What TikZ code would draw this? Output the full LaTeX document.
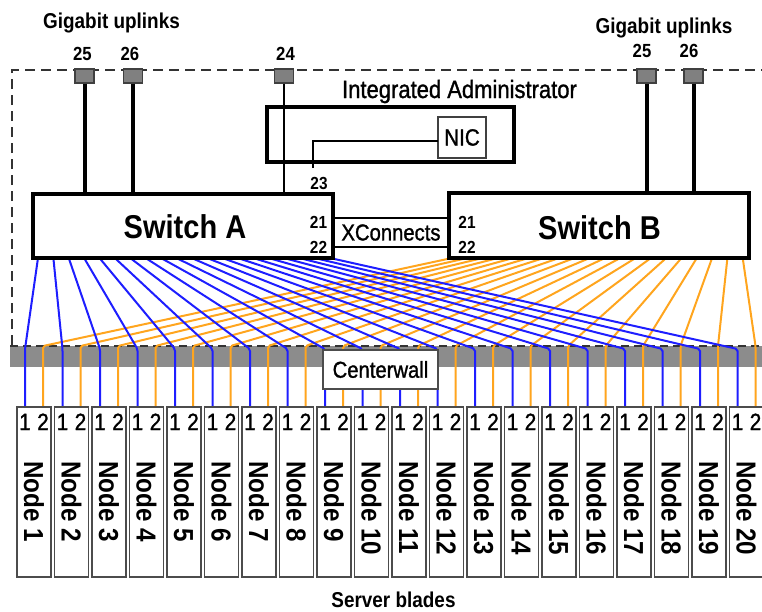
\documentclass[tikz,border=0pt]{standalone}
\usepackage{fontspec}
\setmainfont[FakeStretch=0.88]{Liberation Sans}
\newfontfamily\medfont[FakeStretch=0.88,FakeBold=1.2]{Liberation Sans}
\definecolor{wblue}{RGB}{30,30,255}
\definecolor{worange}{RGB}{255,165,30}
\definecolor{bandgray}{RGB}{140,140,140}
\definecolor{portgray}{RGB}{128,128,128}
\begin{document}
\begin{tikzpicture}[x=1pt,y=-1pt,
  boundary/.style={draw=black!80, line width=2.2pt, dash pattern=on 10pt off 6pt},
  bandline/.style={draw=black!80, line width=1.8pt, dash pattern=on 8pt off 5pt},
  switchbox/.style={draw=black, line width=3.2pt, fill=white, minimum width=300pt, minimum height=64pt, inner sep=0pt},
  adminbox/.style={draw=black, line width=3.2pt, minimum width=247pt, minimum height=55pt, inner sep=0pt},
  nicbox/.style={draw=black!75, line width=1.4pt, fill=white, minimum width=48pt, minimum height=41pt, inner sep=0pt, font=\medfont\fontsize{23.5}{24}\selectfont},
  xbox/.style={draw=black, line width=2pt, minimum width=116pt, minimum height=29pt, inner sep=0pt, font=\medfont\fontsize{23}{24}\selectfont},
  wallbox/.style={draw=black!70, line width=1.5pt, fill=white, minimum width=115pt, minimum height=39pt, inner sep=0pt, font=\medfont\fontsize{23}{24}\selectfont},
  portsq/.style={draw=black!75, line width=1.2pt, fill=portgray, minimum width=19pt, minimum height=14pt, inner sep=0pt},
  uplink/.style={draw=black, line width=4pt},
  mgmtline/.style={draw=black, line width=2pt},
  nicline/.style={draw=black, line width=1.5pt},
  bluewire/.style={draw=wblue, line width=2pt, rounded corners=2pt},
  orangewire/.style={draw=worange, line width=2pt, rounded corners=2pt},
  blade/.style={draw=black!70, line width=1.8pt, fill=white, minimum width=34pt, minimum height=170pt, inner sep=0pt},
  bladetxt/.style={rotate=-90, anchor=west, inner sep=0pt, font=\bfseries\fontsize{27.5}{28}\selectfont},
  portnum/.style={anchor=base, inner sep=0pt, font=\medfont\fontsize{23.5}{24}\selectfont},
  biglbl/.style={anchor=base, inner sep=0pt, font=\bfseries\fontsize{33}{34}\selectfont},
  numlbl/.style={anchor=base, inner sep=0pt, font=\bfseries\fontsize{19}{19}\selectfont},
  smallnum/.style={anchor=base, inner sep=0pt, font=\bfseries\fontsize{17.5}{18}\selectfont},
  titlelbl/.style={anchor=base, inner sep=0pt, font=\bfseries\fontsize{21.5}{22}\selectfont},
  adminlbl/.style={anchor=base, inner sep=0pt, font=\medfont\fontsize{25}{26}\selectfont}
]
\useasboundingbox (0,0) rectangle (762,611);

% centerwall band
\fill[bandgray] (10,346) rectangle (762,367);
\draw[bandline] (10,346) -- (762,346);

% enclosure boundary
\coordinate (bTL) at (12,70);
\coordinate (bTR) at (762,70);
\coordinate (bBL) at (12,345);
\draw[boundary] (bBL) -- (bTL) -- (bTR);

% blade port coordinates and wires
\foreach \i in {1,...,20}{
  \pgfmathsetmacro\pa{25+(\i-1)*37.5}
  \pgfmathsetmacro\pb{43+(\i-1)*37.5}
  \pgfmathsetmacro\sa{38+(\i-1)*15.37}
  \pgfmathsetmacro\sb{452+(\i-1)*15.3}
  \coordinate (sa\i) at (\sa,258);
  \coordinate (sb\i) at (\sb,258);
  \coordinate (pa\i) at (\pa,407);
  \coordinate (pb\i) at (\pb,407);
  \coordinate (ka\i) at (\pa,349);
  \coordinate (kb\i) at (\pb,346);
}
\foreach \i in {1,...,20}{
  \draw[orangewire] (sb\i) -- (kb\i) -- (pb\i);
}
\foreach \i in {1,...,20}{
  \draw[bluewire] (sa\i) -- (ka\i) -- (pa\i);
}

% centerwall label
\node[wallbox] (wall) at (380.5,369.5) {Centerwall};

% XConnects
\node[xbox] (xc) at (391,232.5) {XConnects};

% switches
\node[switchbox] (swA) at (183,226) {};
\node[switchbox, minimum height=65pt] (swB) at (599,225.5) {};
\node[biglbl] (swAt) at (185,238) {Switch A};
\node[biglbl] (swBt) at (599.5,239) {Switch B};
\node[smallnum] (a21) at (318.5,228) {21};
\node[smallnum] (a22) at (318.5,253) {22};
\node[smallnum] (b21) at (467,228) {21};
\node[smallnum] (b22) at (467,253) {22};

% integrated administrator
\node[adminbox] (ia) at (390.5,134.5) {};
\node[adminlbl] (iat) at (459.5,98) {Integrated Administrator};
\node[nicbox] (nic) at (462,137.5) {NIC};
\coordinate (nicport) at (438,141);
\coordinate (p23) at (313,168);
\draw[nicline] (nicport) -| (p23);
\node[smallnum] (l23) at (319,189) {23};

% uplink ports
\node[portsq] (ua25) at (84.5,76) {};
\node[portsq] (ua26) at (133,76) {};
\node[portsq] (ua24) at (284,76) {};
\node[portsq] (ub25) at (646.5,76) {};
\node[portsq] (ub26) at (693.5,76) {};
\draw[uplink] (ua25.south) -- (ua25.south |- swA.north);
\draw[uplink] (ua26.south) -- (ua26.south |- swA.north);
\draw[mgmtline] (ua24.south) -- (ua24.south |- swA.north);
\draw[uplink] (ub25.south) -- (ub25.south |- swB.north);
\draw[uplink] (ub26.south) -- (ub26.south |- swB.north);
\node[numlbl] (t25a) at (82.5,60) {25};
\node[numlbl] (t26a) at (130,60) {26};
\node[numlbl] (t24) at (285.5,60) {24};
\node[numlbl] (t25b) at (642,57) {25};
\node[numlbl] (t26b) at (689,57) {26};
\node[titlelbl] (gua) at (111.5,28) {Gigabit uplinks};
\node[titlelbl] (gub) at (664,33) {Gigabit uplinks};

% blades
\foreach \i in {1,...,20}{
  \pgfmathsetmacro\cx{34+(\i-1)*37.5}
  \node[blade] (n\i) at (\cx,492) {};
  \node[bladetxt] (nt\i) at (\cx,461) {Node \i};
  \node[portnum] (q1\i) at (pa\i |- 0,430) {1};
  \node[portnum] (q2\i) at (pb\i |- 0,430) {2};
}
\node[titlelbl] (sbl) at (393.5,607) {Server blades};
\end{tikzpicture}
\end{document}
